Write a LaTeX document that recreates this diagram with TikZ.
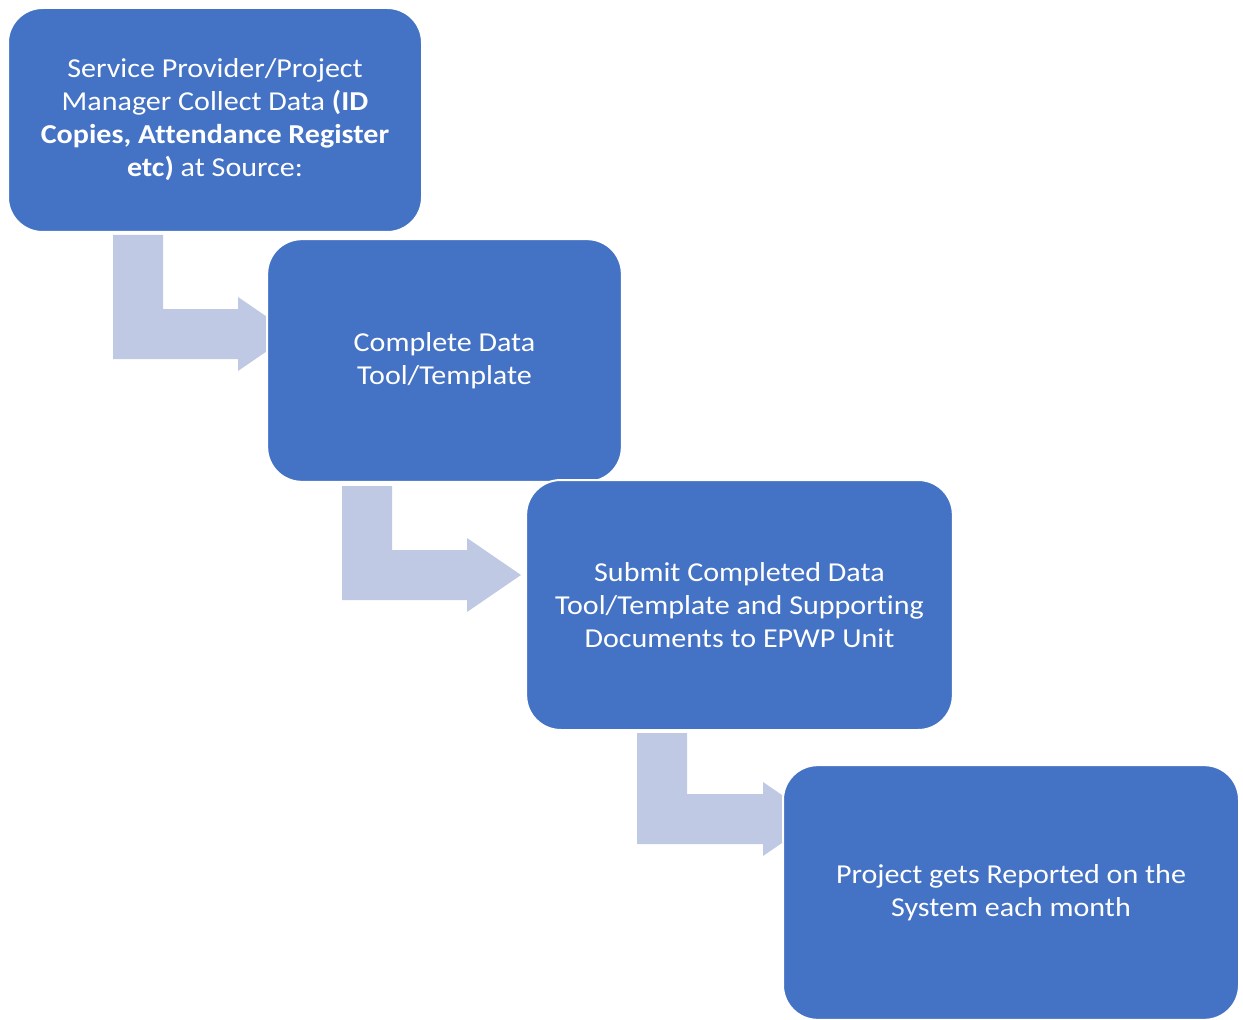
\documentclass[tikz,border=0pt]{standalone}
\usepackage{fontspec}
\setmainfont[FakeStretch=1.1, Ligatures=NoCommon]{Carlito}
\usepackage{tikz}
\usetikzlibrary{calc}

\definecolor{stepblue}{HTML}{4472C4}
\definecolor{bentgray}{HTML}{BFC9E3}

% bent arrow: #1 = top left of the shaft, #2 = tip
\newcommand{\bentarrow}[2]{%
  \fill[bentgray] (#1) -- ++(50,0) |- ($(#2)+(-54,-25)$) -- ++(0,-12) -- (#2)
    -- ++(-54,37) -- ++(0,-12) -| (#1) -- cycle;}

\begin{document}
\begin{tikzpicture}[
    x=0.75pt, y=-0.75pt,
    stepbox/.style={draw=white, line width=1.5pt, fill=stepblue, rounded corners=26pt,
      align=center, text=white, inner sep=0pt,
      font=\fontsize{20.5}{24.75}\selectfont}
  ]
    \useasboundingbox (0,0) rectangle (1243,1020);

    % Nodes and arrows
    \node[stepbox, minimum width=310.5pt, minimum height=168pt] (collect) at (215,120)
      {Service Provider/Project\\Manager Collect Data \textbf{(ID}\\\textbf{Copies, Attendance Register}\\\textbf{etc)} at Source:};

    \coordinate (a1) at (113,235);
    \coordinate (t1) at (292,334);
    \bentarrow{a1}{t1}

    \node[stepbox, minimum width=266pt, minimum height=182pt] (template) at (444.5,360.5)
      {Complete Data\\Tool/Template};

    \coordinate (a2) at (342,486);
    \coordinate (t2) at (521,575);
    \bentarrow{a2}{t2}

    \node[stepbox, minimum width=320pt, minimum height=187.5pt] (submit) at (739.5,605)
      {Submit Completed Data\\Tool/Template and Supporting\\Documents to EPWP Unit};

    \coordinate (a3) at (637,733);
    \coordinate (t3) at (817,819);
    \bentarrow{a3}{t3}

    \node[stepbox, minimum width=342pt, minimum height=191pt] (report) at (1011,892.5)
      {Project gets Reported on the\\System each month};

\end{tikzpicture}
\end{document}
